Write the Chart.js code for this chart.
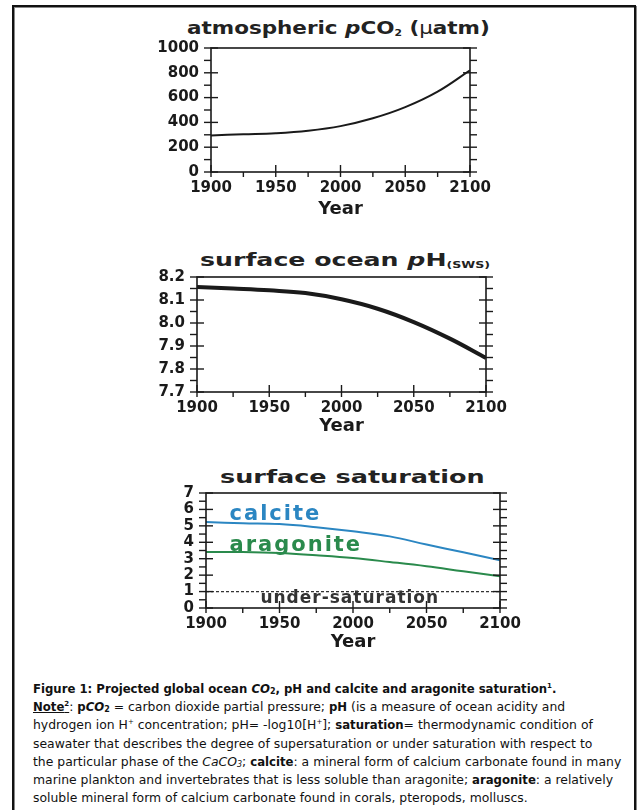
<!DOCTYPE html>
<html>
<head>
<meta charset="utf-8">
<script src="https://cdn.jsdelivr.net/npm/chart.js@4.4.1/dist/chart.umd.min.js"></script>
<style>
  body { margin: 0; background: #fff; width: 642px; height: 810px; overflow: hidden; position: relative; }
  .frame { position: absolute; left: 12px; top: 5px; width: 620px; height: 820px; border: 2px solid #111; box-shadow: 1px 1px 0 #888, inset 1px 1px 0 #888; }
  canvas { position: absolute; }
  .ttl { position: absolute; font-family: "DejaVu Sans", sans-serif; font-weight: bold; font-size: 18px; color: #222; white-space: nowrap; transform-origin: left center; }
  .ttl sub { font-size: 9px; vertical-align: -2px; }
  .ttl .mu { font-weight: normal; }
  .caption { position: absolute; left: 33px; top: 680px; width: 600px; font-family: "DejaVu Sans", sans-serif; font-size: 12.4px; line-height: 18.2px; color: #111; }
  .caption p { margin: 0; white-space: nowrap; }
  .caption b { font-size: 11.7px; }
  .caption sup { font-size: 7px; vertical-align: 5px; line-height: 0; }
  .caption sub { font-size: 8px; vertical-align: -1px; line-height: 0; }
</style>
</head>
<body>
<div class="frame"></div>

<div class="ttl" id="t1" style="left:187px; top:17px;">atmospheric <i>p</i>CO<sub>2</sub> (<span class="mu">μ</span>atm)</div>
<canvas id="c1" style="left:110px; top:27px;" width="390" height="193"></canvas>

<div class="ttl" id="t2" style="left:200px; top:249px;">surface ocean <i>p</i>H<sub>(SWS)</sub></div>
<canvas id="c2" style="left:100px; top:256px;" width="420" height="181"></canvas>

<div class="ttl" id="t3" style="left:220px; top:466px;">surface saturation</div>
<canvas id="c3" style="left:110px; top:472px;" width="420" height="181"></canvas>

<div class="caption">
  <p><b>Figure 1: Projected global ocean <i>CO</i><sub>2</sub>, pH and calcite and aragonite saturation<sup>1</sup>.</b></p>
  <p><b><u>Note<sup>2</sup></u></b>: <b>p<i>CO</i><sub>2</sub></b> = carbon dioxide partial pressure; <b>pH</b> (is a measure of ocean acidity and</p>
  <p>hydrogen ion H<sup>+</sup> concentration; pH= -log10[H<sup>+</sup>]; <b>saturation</b>= thermodynamic condition of</p>
  <p>seawater that describes the degree of supersaturation or under saturation with respect to</p>
  <p>the particular phase of the <i>CaCO<sub>3</sub></i>; <b>calcite</b>: a mineral form of calcium carbonate found in many</p>
  <p>marine plankton and invertebrates that is less soluble than aragonite; <b>aragonite</b>: a relatively</p>
  <p>soluble mineral form of calcium carbonate found in corals, pteropods, molluscs.</p>
</div>

<script>
// years shared by all three panels
const years = [1900, 1925, 1950, 1975, 2000, 2025, 2050, 2075, 2100];

// atmospheric pCO2 (uatm)
const pco2 = [295, 304, 313, 333, 370, 433, 523, 648, 820];
// surface ocean pH
const ph = [8.157, 8.150, 8.142, 8.130, 8.103, 8.062, 8.004, 7.932, 7.848];
// saturation states
const calcite = [5.23, 5.16, 5.11, 4.92, 4.67, 4.36, 3.86, 3.39, 2.90];
const aragonite = [3.41, 3.41, 3.35, 3.21, 3.04, 2.80, 2.54, 2.23, 1.93];
const underSat = 1;

// tick values
const yearMajor = [1900, 1950, 2000, 2050, 2100];
const yearMinor = [1900, 1925, 1950, 1975, 2000, 2025, 2050, 2075, 2100];
const co2Major = [0, 200, 400, 600, 800, 1000];
const co2Minor = [0, 100, 200, 300, 400, 500, 600, 700, 800, 900, 1000];
const phMajor = [7.7, 7.8, 7.9, 8.0, 8.1, 8.2];
const phMinor = [7.7, 7.75, 7.8, 7.85, 7.9, 7.95, 8.0, 8.05, 8.1, 8.15, 8.2];
const satMajor = [0, 1, 2, 3, 4, 5, 6, 7];
const satMinor = [0, 0.5, 1, 1.5, 2, 2.5, 3, 3.5, 4, 4.5, 5, 5.5, 6, 6.5, 7];

const ink = "#1a1a1a";
const tickFont = { family: "DejaVu Sans", weight: "bold", size: 15 };

const pts = (ys) => years.map((y, i) => ({ x: y, y: ys[i] }));

// frame + in/out tick marks, placed through the chart's own scales
const frameTicks = {
  id: "frameTicks",
  afterDraw(chart, args, o) {
    const { ctx, chartArea: a, scales: { x, y } } = chart;
    const L = 7;
    ctx.save();
    ctx.strokeStyle = ink;
    ctx.lineWidth = 1.6;
    ctx.strokeRect(a.left, a.top, a.right - a.left, a.bottom - a.top);
    ctx.lineWidth = 1.4;
    const seg = (x1, y1, x2, y2) => { ctx.beginPath(); ctx.moveTo(x1, y1); ctx.lineTo(x2, y2); ctx.stroke(); };
    o.yMinor.forEach(v => {
      const p = y.getPixelForValue(v);
      const major = o.yMajor.includes(v);
      seg(a.left - L, p, a.left + (major ? L : 0), p);
      seg(a.right - (major ? L : 0), p, a.right + L, p);
    });
    o.xMinor.forEach(v => {
      const p = x.getPixelForValue(v);
      const major = o.xMajor.includes(v);
      seg(p, a.bottom - (major ? L : 0), p, a.bottom + L - 2);
    });
    ctx.restore();
  }
};

// text labels inside the saturation panel, placed in data units
const panelLabels = {
  id: "panelLabels",
  afterDatasetsDraw(chart, args, o) {
    if (!o.items) return;
    const { ctx, scales: { x, y } } = chart;
    ctx.save();
    o.items.forEach(it => {
      ctx.font = it.font;
      ctx.fillStyle = it.color;
      ctx.letterSpacing = it.spacing || "0px";
      ctx.textBaseline = "middle";
      ctx.fillText(it.text, x.getPixelForValue(it.x), y.getPixelForValue(it.y));
    });
    ctx.restore();
  }
};

function makeChart(id, datasets, yopts, pad, yWidth, xHeight, labels) {
  return new Chart(document.getElementById(id), {
    type: "line",
    data: { datasets },
    plugins: [frameTicks, panelLabels],
    options: {
      responsive: false,
      animation: false,
      layout: { padding: pad },
      elements: { point: { radius: 0 } },
      plugins: {
        legend: { display: false },
        tooltip: { enabled: false },
        frameTicks: { xMajor: yearMajor, xMinor: yearMinor, yMajor: yopts.major, yMinor: yopts.minor },
        panelLabels: { items: labels }
      },
      scales: {
        x: {
          type: "linear", min: 1900, max: 2100,
          afterFit: s => { s.height = xHeight; },
          afterBuildTicks: s => { s.ticks = yearMajor.map(v => ({ value: v })); },
          ticks: { color: ink, font: tickFont, padding: 7, maxRotation: 0, autoSkip: false, callback: v => String(v) },
          grid: { display: false, drawTicks: false },
          border: { display: false },
          title: { display: true, text: "Year", color: ink, padding: 0, font: { family: "DejaVu Sans", weight: "bold", size: 18 } }
        },
        y: {
          min: yopts.min, max: yopts.max,
          afterFit: s => { s.width = yWidth; },
          afterBuildTicks: s => { s.ticks = yopts.major.map(v => ({ value: v })); },
          ticks: { color: ink, font: tickFont, padding: 12, autoSkip: false, callback: yopts.fmt },
          grid: { display: false, drawTicks: false },
          border: { display: false }
        }
      }
    }
  });
}

makeChart("c1",
  [{ data: pts(pco2), borderColor: ink, borderWidth: 2, tension: 0.4 }],
  { min: 0, max: 1000, major: co2Major, minor: co2Minor, fmt: v => String(v) },
  { top: 3, right: 30, left: 0, bottom: 0 }, 101, 48);

makeChart("c2",
  [{ data: pts(ph), borderColor: ink, borderWidth: 4, tension: 0.4 }],
  { min: 7.7, max: 8.2, major: phMajor, minor: phMinor, fmt: v => v.toFixed(1) },
  { top: 3, right: 34, left: 0, bottom: 0 }, 97, 45);

makeChart("c3",
  [
    { data: pts(calcite), borderColor: "#2b86c2", borderWidth: 2, tension: 0.4 },
    { data: pts(aragonite), borderColor: "#2a8a4c", borderWidth: 2, tension: 0.4 },
    { data: [{ x: 1900, y: underSat }, { x: 2100, y: underSat }], borderColor: "#333", borderWidth: 1.2, borderDash: [3, 2] }
  ],
  { min: 0, max: 7, major: satMajor, minor: satMinor, fmt: v => String(v) },
  { top: 3, right: 30, left: 0, bottom: 0 }, 96, 45,
  [
    { text: "calcite", x: 1916, y: 5.66, color: "#2b86c2", font: "bold 21px 'DejaVu Sans'", spacing: "2px" },
    { text: "aragonite", x: 1916, y: 3.83, color: "#2a8a4c", font: "bold 21px 'DejaVu Sans'", spacing: "2px" },
    { text: "under-saturation", x: 1937, y: 0.6, color: "#333", font: "bold 17px 'DejaVu Sans'", spacing: "1px" }
  ]);

// stretch the html titles to the widths seen in the figure
[["t1", 303], ["t2", 290], ["t3", 265]].forEach(([id, w]) => {
  const el = document.getElementById(id);
  el.style.transform = "scaleX(" + (w / el.offsetWidth) + ")";
});
</script>
</body>
</html>
